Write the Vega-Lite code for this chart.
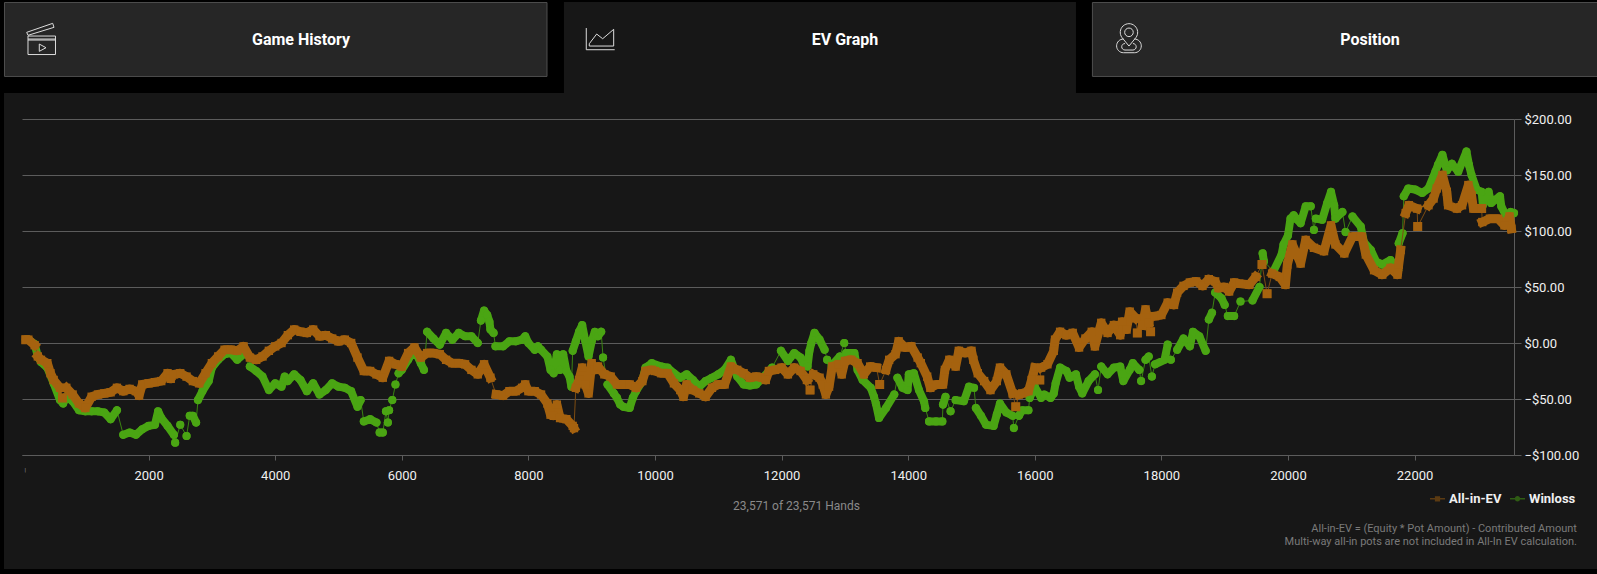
{
"$schema":"https://vega.github.io/schema/vega-lite/v6.json",
"width":1492,"height":336,
"autosize":{"type":"none"},
"padding":{"left":22,"top":119,"right":83,"bottom":119},
"background":"#171717",
"config":{"view":{"stroke":null},"text":{"font":"Roboto"}},
"datasets":{
"ev":[{"hand":60,"usd":3},{"hand":100,"usd":3},{"hand":200,"usd":-2},{"hand":225,"usd":null},{"hand":250,"usd":-12},{"hand":300,"usd":-15},{"hand":400,"usd":-18},{"hand":450,"usd":-27},{"hand":500,"usd":-33},{"hand":600,"usd":-40},{"hand":620,"usd":null},{"hand":640,"usd":-49},{"hand":670,"usd":null},{"hand":700,"usd":-40},{"hand":800,"usd":-46},{"hand":900,"usd":-54},{"hand":1000,"usd":-58},{"hand":1100,"usd":-48},{"hand":1200,"usd":-46},{"hand":1300,"usd":-45},{"hand":1400,"usd":-44},{"hand":1500,"usd":-40},{"hand":1600,"usd":-43},{"hand":1700,"usd":-41},{"hand":1800,"usd":-43},{"hand":1850,"usd":-47},{"hand":1900,"usd":-37},{"hand":2000,"usd":-36},{"hand":2100,"usd":-35},{"hand":2200,"usd":-34},{"hand":2300,"usd":-27},{"hand":2350,"usd":-32},{"hand":2400,"usd":-28},{"hand":2500,"usd":-27},{"hand":2600,"usd":-30},{"hand":2700,"usd":-34},{"hand":2800,"usd":-36},{"hand":2900,"usd":-27},{"hand":3000,"usd":-18},{"hand":3100,"usd":-12},{"hand":3200,"usd":-6},{"hand":3300,"usd":-6},{"hand":3400,"usd":-7},{"hand":3500,"usd":-3},{"hand":3600,"usd":-13},{"hand":3700,"usd":-15},{"hand":3800,"usd":-12},{"hand":3900,"usd":-7},{"hand":4000,"usd":-3},{"hand":4100,"usd":0},{"hand":4200,"usd":7},{"hand":4300,"usd":12},{"hand":4400,"usd":10},{"hand":4500,"usd":9},{"hand":4600,"usd":12},{"hand":4700,"usd":6},{"hand":4800,"usd":7},{"hand":4900,"usd":4},{"hand":5000,"usd":1.5},{"hand":5100,"usd":3},{"hand":5200,"usd":0},{"hand":5300,"usd":-13},{"hand":5400,"usd":-25},{"hand":5500,"usd":-25},{"hand":5600,"usd":-28},{"hand":5700,"usd":-31},{"hand":5800,"usd":-16},{"hand":5900,"usd":-19},{"hand":6000,"usd":-21},{"hand":6100,"usd":-9},{"hand":6200,"usd":-4},{"hand":6300,"usd":-13},{"hand":6400,"usd":-9},{"hand":6500,"usd":-9},{"hand":6600,"usd":-10},{"hand":6700,"usd":-15},{"hand":6800,"usd":-18},{"hand":6900,"usd":-18},{"hand":7000,"usd":-19},{"hand":7100,"usd":-24},{"hand":7200,"usd":-28},{"hand":7300,"usd":-19},{"hand":7400,"usd":-31},{"hand":7445,"usd":null},{"hand":7490,"usd":-46},{"hand":7600,"usd":-47},{"hand":7700,"usd":-43},{"hand":7800,"usd":-43},{"hand":7900,"usd":-40},{"hand":7950,"usd":-37},{"hand":8000,"usd":-43},{"hand":8100,"usd":-43},{"hand":8200,"usd":-46},{"hand":8300,"usd":-54},{"hand":8350,"usd":-64},{"hand":8400,"usd":-65},{"hand":8450,"usd":-55},{"hand":8500,"usd":-67},{"hand":8600,"usd":-68},{"hand":8700,"usd":-74},{"hand":8720,"usd":-76},{"hand":8735,"usd":null},{"hand":8750,"usd":-40},{"hand":8800,"usd":-33},{"hand":8850,"usd":-22},{"hand":8900,"usd":-37},{"hand":8950,"usd":-45},{"hand":9000,"usd":-18},{"hand":9050,"usd":-24},{"hand":9100,"usd":-21},{"hand":9200,"usd":-28},{"hand":9300,"usd":-30},{"hand":9400,"usd":-37},{"hand":9500,"usd":-37},{"hand":9600,"usd":-37},{"hand":9700,"usd":-40},{"hand":9800,"usd":-34},{"hand":9850,"usd":-25},{"hand":9950,"usd":-24},{"hand":10000,"usd":-25},{"hand":10100,"usd":-27},{"hand":10200,"usd":-27},{"hand":10300,"usd":-36},{"hand":10400,"usd":-42},{"hand":10450,"usd":-48},{"hand":10500,"usd":-37},{"hand":10600,"usd":-42},{"hand":10700,"usd":-45},{"hand":10800,"usd":-48},{"hand":10900,"usd":-40},{"hand":11000,"usd":-37},{"hand":11100,"usd":-37},{"hand":11200,"usd":-21},{"hand":11300,"usd":-24},{"hand":11400,"usd":-27},{"hand":11500,"usd":-31},{"hand":11600,"usd":-30},{"hand":11700,"usd":-31},{"hand":11750,"usd":-33},{"hand":11800,"usd":-25},{"hand":11900,"usd":-24},{"hand":12000,"usd":-22},{"hand":12100,"usd":-28},{"hand":12200,"usd":-22},{"hand":12300,"usd":-25},{"hand":12400,"usd":-33},{"hand":12425,"usd":null},{"hand":12450,"usd":-42},{"hand":12475,"usd":null},{"hand":12500,"usd":-28},{"hand":12600,"usd":-31},{"hand":12650,"usd":-37},{"hand":12700,"usd":-46},{"hand":12750,"usd":-39},{"hand":12800,"usd":-21},{"hand":12900,"usd":-19},{"hand":12950,"usd":-28},{"hand":13000,"usd":-16},{"hand":13100,"usd":-15},{"hand":13200,"usd":-18},{"hand":13300,"usd":-28},{"hand":13400,"usd":-21},{"hand":13500,"usd":-22},{"hand":13525,"usd":null},{"hand":13550,"usd":-37},{"hand":13600,"usd":null},{"hand":13650,"usd":-24},{"hand":13700,"usd":-15},{"hand":13800,"usd":-10},{"hand":13850,"usd":1.5},{"hand":13950,"usd":-4},{"hand":14050,"usd":-3},{"hand":14150,"usd":-13},{"hand":14200,"usd":-18},{"hand":14300,"usd":-30},{"hand":14350,"usd":-40},{"hand":14450,"usd":-37},{"hand":14550,"usd":-37},{"hand":14580,"usd":-24},{"hand":14650,"usd":-15},{"hand":14750,"usd":-21},{"hand":14800,"usd":-7},{"hand":14900,"usd":-9},{"hand":15000,"usd":-7},{"hand":15030,"usd":-15},{"hand":15100,"usd":-27},{"hand":15200,"usd":-34},{"hand":15300,"usd":-42},{"hand":15400,"usd":-34},{"hand":15450,"usd":-22},{"hand":15550,"usd":-28},{"hand":15650,"usd":-45},{"hand":15675,"usd":null},{"hand":15700,"usd":-57},{"hand":15725,"usd":null},{"hand":15750,"usd":-46},{"hand":15800,"usd":-45},{"hand":15900,"usd":-43},{"hand":15950,"usd":-33},{"hand":16000,"usd":-22},{"hand":16050,"usd":null},{"hand":16080,"usd":-33},{"hand":16090,"usd":null},{"hand":16100,"usd":-22},{"hand":16200,"usd":-19},{"hand":16300,"usd":-7},{"hand":16320,"usd":3},{"hand":16400,"usd":10},{"hand":16500,"usd":7},{"hand":16600,"usd":9},{"hand":16700,"usd":-4},{"hand":16800,"usd":4},{"hand":16900,"usd":10},{"hand":16950,"usd":-3},{"hand":17050,"usd":18},{"hand":17150,"usd":9},{"hand":17250,"usd":16},{"hand":17350,"usd":7},{"hand":17380,"usd":19},{"hand":17450,"usd":12},{"hand":17500,"usd":28},{"hand":17600,"usd":22},{"hand":17610,"usd":null},{"hand":17620,"usd":9},{"hand":17660,"usd":null},{"hand":17700,"usd":16},{"hand":17750,"usd":30},{"hand":17800,"usd":18},{"hand":17815,"usd":null},{"hand":17830,"usd":10},{"hand":17865,"usd":null},{"hand":17900,"usd":24},{"hand":18000,"usd":25},{"hand":18100,"usd":36},{"hand":18200,"usd":34},{"hand":18250,"usd":45},{"hand":18350,"usd":51},{"hand":18450,"usd":54},{"hand":18550,"usd":55},{"hand":18650,"usd":51},{"hand":18750,"usd":57},{"hand":18850,"usd":55},{"hand":18900,"usd":49},{"hand":18990,"usd":50},{"hand":19070,"usd":46},{"hand":19150,"usd":54},{"hand":19230,"usd":53},{"hand":19390,"usd":52},{"hand":19490,"usd":59},{"hand":19540,"usd":null},{"hand":19590,"usd":70},{"hand":19630,"usd":null},{"hand":19670,"usd":44},{"hand":19710,"usd":null},{"hand":19750,"usd":62},{"hand":19870,"usd":59},{"hand":19960,"usd":52},{"hand":19990,"usd":70},{"hand":20070,"usd":88},{"hand":20200,"usd":71},{"hand":20280,"usd":92},{"hand":20410,"usd":85},{"hand":20570,"usd":82},{"hand":20680,"usd":105},{"hand":20750,"usd":88},{"hand":20890,"usd":80},{"hand":21020,"usd":95},{"hand":21170,"usd":95},{"hand":21230,"usd":79},{"hand":21360,"usd":65},{"hand":21490,"usd":61},{"hand":21620,"usd":67},{"hand":21730,"usd":61},{"hand":21750,"usd":70},{"hand":21780,"usd":83},{"hand":21820,"usd":null},{"hand":21860,"usd":116},{"hand":21910,"usd":123},{"hand":22040,"usd":120},{"hand":22045,"usd":null},{"hand":22050,"usd":104},{"hand":22120,"usd":null},{"hand":22220,"usd":123},{"hand":22300,"usd":129},{"hand":22350,"usd":138},{"hand":22440,"usd":150},{"hand":22510,"usd":135},{"hand":22530,"usd":123},{"hand":22670,"usd":120},{"hand":22750,"usd":123},{"hand":22850,"usd":141},{"hand":22900,"usd":132},{"hand":22930,"usd":120},{"hand":23060,"usd":120},{"hand":23065,"usd":null},{"hand":23070,"usd":108},{"hand":23190,"usd":111},{"hand":23320,"usd":111},{"hand":23420,"usd":105},{"hand":23500,"usd":113},{"hand":23530,"usd":102}],
"wl":[{"hand":60,"usd":3},{"hand":100,"usd":3},{"hand":200,"usd":-1},{"hand":250,"usd":-12},{"hand":300,"usd":-17},{"hand":400,"usd":-22},{"hand":500,"usd":-36},{"hand":600,"usd":-51},{"hand":650,"usd":-54},{"hand":700,"usd":-48},{"hand":800,"usd":-52},{"hand":900,"usd":-60},{"hand":1000,"usd":-61},{"hand":1100,"usd":-61},{"hand":1200,"usd":-61},{"hand":1300,"usd":-62},{"hand":1400,"usd":-68},{"hand":1500,"usd":-60},{"hand":1550,"usd":null},{"hand":1600,"usd":-82},{"hand":1700,"usd":-80},{"hand":1800,"usd":-82},{"hand":1900,"usd":-77},{"hand":2000,"usd":-74},{"hand":2100,"usd":-73},{"hand":2150,"usd":-61},{"hand":2200,"usd":-67},{"hand":2300,"usd":-74},{"hand":2400,"usd":-82},{"hand":2410,"usd":null},{"hand":2420,"usd":-89},{"hand":2460,"usd":null},{"hand":2500,"usd":-73},{"hand":2550,"usd":null},{"hand":2600,"usd":-83},{"hand":2625,"usd":null},{"hand":2650,"usd":-65},{"hand":2700,"usd":-65},{"hand":2750,"usd":-71},{"hand":2765,"usd":null},{"hand":2780,"usd":-51},{"hand":2850,"usd":-43},{"hand":2950,"usd":-34},{"hand":3000,"usd":-22},{"hand":3100,"usd":-15},{"hand":3200,"usd":-10},{"hand":3300,"usd":-9},{"hand":3400,"usd":-15},{"hand":3500,"usd":-10},{"hand":3550,"usd":null},{"hand":3600,"usd":-21},{"hand":3700,"usd":-25},{"hand":3800,"usd":-30},{"hand":3900,"usd":-42},{"hand":4000,"usd":-36},{"hand":4100,"usd":-39},{"hand":4150,"usd":-30},{"hand":4200,"usd":-34},{"hand":4300,"usd":-28},{"hand":4400,"usd":-33},{"hand":4500,"usd":-43},{"hand":4600,"usd":-36},{"hand":4700,"usd":-46},{"hand":4800,"usd":-42},{"hand":4900,"usd":-36},{"hand":5000,"usd":-39},{"hand":5100,"usd":-40},{"hand":5200,"usd":-43},{"hand":5300,"usd":-57},{"hand":5350,"usd":-51},{"hand":5375,"usd":null},{"hand":5400,"usd":-70},{"hand":5500,"usd":-68},{"hand":5600,"usd":-71},{"hand":5625,"usd":null},{"hand":5650,"usd":-80},{"hand":5700,"usd":-80},{"hand":5725,"usd":null},{"hand":5750,"usd":-61},{"hand":5765,"usd":null},{"hand":5780,"usd":-71},{"hand":5790,"usd":null},{"hand":5800,"usd":-60},{"hand":5825,"usd":null},{"hand":5850,"usd":-51},{"hand":5875,"usd":null},{"hand":5900,"usd":-37},{"hand":5925,"usd":null},{"hand":5950,"usd":-27},{"hand":6000,"usd":-24},{"hand":6100,"usd":-15},{"hand":6200,"usd":-6},{"hand":6300,"usd":-18},{"hand":6350,"usd":-24},{"hand":6375,"usd":null},{"hand":6400,"usd":10},{"hand":6500,"usd":4},{"hand":6600,"usd":-1.5},{"hand":6700,"usd":9},{"hand":6800,"usd":3},{"hand":6900,"usd":9},{"hand":7000,"usd":6},{"hand":7100,"usd":6},{"hand":7200,"usd":0},{"hand":7225,"usd":null},{"hand":7250,"usd":20},{"hand":7300,"usd":29},{"hand":7350,"usd":25},{"hand":7385,"usd":19},{"hand":7400,"usd":12},{"hand":7450,"usd":9},{"hand":7465,"usd":null},{"hand":7480,"usd":-3},{"hand":7600,"usd":-3},{"hand":7700,"usd":1.5},{"hand":7800,"usd":1.5},{"hand":7900,"usd":3},{"hand":7950,"usd":6},{"hand":8000,"usd":0},{"hand":8100,"usd":-6},{"hand":8150,"usd":-3},{"hand":8200,"usd":-6},{"hand":8300,"usd":-12},{"hand":8350,"usd":-24},{"hand":8400,"usd":-27},{"hand":8450,"usd":-10},{"hand":8500,"usd":-24},{"hand":8550,"usd":-10},{"hand":8600,"usd":-25},{"hand":8650,"usd":-30},{"hand":8680,"usd":-39},{"hand":8690,"usd":null},{"hand":8700,"usd":-7},{"hand":8750,"usd":1.5},{"hand":8800,"usd":10},{"hand":8850,"usd":16},{"hand":8900,"usd":1.5},{"hand":8950,"usd":-12},{"hand":9000,"usd":1.5},{"hand":9050,"usd":10},{"hand":9100,"usd":6},{"hand":9150,"usd":10},{"hand":9165,"usd":null},{"hand":9180,"usd":-13},{"hand":9215,"usd":null},{"hand":9250,"usd":-37},{"hand":9350,"usd":-45},{"hand":9400,"usd":-49},{"hand":9450,"usd":-55},{"hand":9500,"usd":-57},{"hand":9600,"usd":-58},{"hand":9650,"usd":-49},{"hand":9700,"usd":-43},{"hand":9800,"usd":-34},{"hand":9850,"usd":-22},{"hand":9950,"usd":-18},{"hand":10100,"usd":-21},{"hand":10200,"usd":-22},{"hand":10300,"usd":-27},{"hand":10400,"usd":-31},{"hand":10500,"usd":-28},{"hand":10600,"usd":-33},{"hand":10700,"usd":-39},{"hand":10800,"usd":-34},{"hand":10900,"usd":-31},{"hand":11000,"usd":-28},{"hand":11100,"usd":-24},{"hand":11200,"usd":-15},{"hand":11300,"usd":-30},{"hand":11400,"usd":-37},{"hand":11500,"usd":-38},{"hand":11600,"usd":-37},{"hand":11720,"usd":-30},{"hand":11850,"usd":-22},{"hand":11920,"usd":null},{"hand":11990,"usd":-7},{"hand":12100,"usd":-16},{"hand":12200,"usd":-9},{"hand":12300,"usd":-13},{"hand":12350,"usd":-19},{"hand":12410,"usd":-21},{"hand":12440,"usd":-7},{"hand":12470,"usd":0},{"hand":12520,"usd":9},{"hand":12600,"usd":3},{"hand":12680,"usd":-6},{"hand":12700,"usd":null},{"hand":12720,"usd":-15},{"hand":12740,"usd":null},{"hand":12760,"usd":-34},{"hand":12785,"usd":null},{"hand":12810,"usd":-19},{"hand":12920,"usd":-12},{"hand":12960,"usd":null},{"hand":12990,"usd":0},{"hand":13005,"usd":null},{"hand":13020,"usd":-9},{"hand":13150,"usd":-9},{"hand":13200,"usd":-24},{"hand":13280,"usd":-33},{"hand":13410,"usd":-40},{"hand":13460,"usd":-48},{"hand":13490,"usd":-54},{"hand":13540,"usd":-67},{"hand":13650,"usd":-58},{"hand":13780,"usd":-46},{"hand":13805,"usd":null},{"hand":13830,"usd":-31},{"hand":13910,"usd":-40},{"hand":13990,"usd":-42},{"hand":14010,"usd":-28},{"hand":14090,"usd":-27},{"hand":14170,"usd":-42},{"hand":14250,"usd":-52},{"hand":14270,"usd":-58},{"hand":14300,"usd":null},{"hand":14330,"usd":-70},{"hand":14440,"usd":-70},{"hand":14540,"usd":-70},{"hand":14545,"usd":null},{"hand":14550,"usd":-55},{"hand":14590,"usd":-48},{"hand":14630,"usd":null},{"hand":14670,"usd":-61},{"hand":14710,"usd":null},{"hand":14750,"usd":-51},{"hand":14880,"usd":-52},{"hand":14960,"usd":-39},{"hand":15040,"usd":-40},{"hand":15055,"usd":null},{"hand":15070,"usd":-58},{"hand":15150,"usd":-65},{"hand":15230,"usd":-73},{"hand":15350,"usd":-74},{"hand":15400,"usd":-64},{"hand":15450,"usd":-54},{"hand":15550,"usd":-62},{"hand":15650,"usd":-65},{"hand":15660,"usd":null},{"hand":15670,"usd":-76},{"hand":15710,"usd":null},{"hand":15750,"usd":-65},{"hand":15800,"usd":-60},{"hand":15900,"usd":-60},{"hand":15910,"usd":null},{"hand":15920,"usd":-49},{"hand":16000,"usd":-39},{"hand":16100,"usd":-49},{"hand":16150,"usd":-46},{"hand":16250,"usd":-49},{"hand":16300,"usd":-45},{"hand":16330,"usd":-36},{"hand":16400,"usd":-22},{"hand":16500,"usd":-25},{"hand":16550,"usd":-31},{"hand":16650,"usd":-28},{"hand":16700,"usd":-39},{"hand":16750,"usd":-45},{"hand":16850,"usd":-34},{"hand":16950,"usd":-28},{"hand":16975,"usd":null},{"hand":17000,"usd":-42},{"hand":17025,"usd":null},{"hand":17050,"usd":-21},{"hand":17150,"usd":-28},{"hand":17250,"usd":-22},{"hand":17350,"usd":-21},{"hand":17400,"usd":-34},{"hand":17500,"usd":-24},{"hand":17550,"usd":-18},{"hand":17650,"usd":-24},{"hand":17665,"usd":null},{"hand":17680,"usd":-34},{"hand":17715,"usd":null},{"hand":17750,"usd":-15},{"hand":17800,"usd":-12},{"hand":17825,"usd":null},{"hand":17850,"usd":-30},{"hand":17875,"usd":null},{"hand":17900,"usd":-19},{"hand":18050,"usd":-15},{"hand":18100,"usd":-1.5},{"hand":18125,"usd":null},{"hand":18150,"usd":-15},{"hand":18200,"usd":null},{"hand":18250,"usd":-6},{"hand":18350,"usd":4},{"hand":18450,"usd":-3},{"hand":18500,"usd":10},{"hand":18600,"usd":6},{"hand":18700,"usd":-7},{"hand":18725,"usd":null},{"hand":18750,"usd":21},{"hand":18800,"usd":27},{"hand":18825,"usd":null},{"hand":18850,"usd":45},{"hand":18950,"usd":40},{"hand":19000,"usd":34},{"hand":19025,"usd":null},{"hand":19050,"usd":24},{"hand":19150,"usd":24},{"hand":19200,"usd":null},{"hand":19250,"usd":37},{"hand":19350,"usd":null},{"hand":19440,"usd":38},{"hand":19550,"usd":50},{"hand":19575,"usd":null},{"hand":19600,"usd":80},{"hand":19620,"usd":73},{"hand":19700,"usd":null},{"hand":19770,"usd":64},{"hand":19900,"usd":79},{"hand":19930,"usd":88},{"hand":20000,"usd":96},{"hand":20040,"usd":111},{"hand":20090,"usd":114},{"hand":20150,"usd":110},{"hand":20200,"usd":107},{"hand":20280,"usd":122},{"hand":20360,"usd":122},{"hand":20380,"usd":null},{"hand":20410,"usd":101},{"hand":20425,"usd":null},{"hand":20440,"usd":111},{"hand":20540,"usd":110},{"hand":20620,"usd":125},{"hand":20680,"usd":135},{"hand":20730,"usd":123},{"hand":20750,"usd":111},{"hand":20860,"usd":117},{"hand":20885,"usd":null},{"hand":20910,"usd":99},{"hand":20950,"usd":null},{"hand":21020,"usd":113},{"hand":21150,"usd":104},{"hand":21200,"usd":90},{"hand":21310,"usd":83},{"hand":21390,"usd":73},{"hand":21490,"usd":70},{"hand":21620,"usd":74},{"hand":21740,"usd":65},{"hand":21745,"usd":null},{"hand":21750,"usd":89},{"hand":21810,"usd":98},{"hand":21820,"usd":null},{"hand":21830,"usd":131},{"hand":21900,"usd":138},{"hand":22010,"usd":137},{"hand":22120,"usd":134},{"hand":22220,"usd":138},{"hand":22330,"usd":153},{"hand":22370,"usd":159},{"hand":22440,"usd":168},{"hand":22510,"usd":154},{"hand":22590,"usd":160},{"hand":22690,"usd":153},{"hand":22820,"usd":171},{"hand":22860,"usd":159},{"hand":22900,"usd":150},{"hand":22980,"usd":137},{"hand":23060,"usd":135},{"hand":23080,"usd":123},{"hand":23170,"usd":135},{"hand":23210,"usd":125},{"hand":23350,"usd":131},{"hand":23370,"usd":122},{"hand":23480,"usd":110},{"hand":23520,"usd":117},{"hand":23571,"usd":116}]
},
"encoding":{
"x":{"field":"hand","type":"quantitative","scale":{"domain":[0,23571],"nice":false,"zero":false},"axis":{"title":null,"grid":false,"values":[2000,4000,6000,8000,10000,12000,14000,16000,18000,20000,22000],"format":"d","domainColor":"#5c5c5c","tickColor":"#5c5c5c","tickSize":5,"labelColor":"#f0f0f0","labelFont":"Roboto","labelFontSize":13,"labelPadding":9}},
"y":{"field":"usd","type":"quantitative","scale":{"domain":[-100,200],"nice":false,"zero":false},"axis":{"title":null,"orient":"right","values":[-100,-50,0,50,100,150,200],"format":"$,.2f","grid":true,"gridColor":"#5c5c5c","domainColor":"#5c5c5c","tickColor":"#5c5c5c","tickSize":7,"labelColor":"#f0f0f0","labelFont":"Roboto","labelFontSize":13,"labelPadding":3}}
},
"layer":[
{"data":{"values":[{"hand":-400,"hand2":25300,"usd":310,"usd2":223.2},{"hand":-400,"hand2":-284.4,"usd":310,"usd2":-210},{"hand":-400,"hand2":25300,"usd":-201.8,"usd2":-210}]},"mark":{"type":"rect","fill":"#000000","strokeWidth":0},"encoding":{"x2":{"field":"hand2"},"y2":{"field":"usd2"}}},
{"data":{"values":[{"hand":8562,"hand2":16651,"usd":304.5,"usd2":223.2}]},"mark":{"type":"rect","fill":"#171717","strokeWidth":0},"encoding":{"x2":{"field":"hand2"},"y2":{"field":"usd2"}}},
{"data":{"values":[{"hand":-276.5,"hand2":8294,"usd":304,"usd2":238},{"hand":16911,"hand2":24930,"usd":304,"usd2":238}]},"mark":{"type":"rect","fill":"#262626","stroke":"#4e4e4e","strokeWidth":1},"encoding":{"x2":{"field":"hand2"},"y2":{"field":"usd2"}}},
{"data":{"values":[{"tab":"Game History","hand":4408,"usd":270.5},{"tab":"EV Graph","hand":13002,"usd":270.5},{"tab":"Position","hand":21296,"usd":270.5}]},"mark":{"type":"text","font":"Roboto","fontWeight":"bold","fontSize":16,"color":"#ffffff","align":"center","baseline":"middle"},"encoding":{"text":{"field":"tab"}}},
{"data":{"values":[{"hand":300,"usd":271.4}]},"mark":{"type":"point","filled":false,"size":4,"stroke":"#dcdcdc","strokeWidth":1,"opacity":1,"shape":"M-13 -3H14.5V15.5H-13ZM-13 0H14.5M-13 1H14.5M-1.7 5L5 8.7L-1.7 12.3ZM-14.3 -6.7L11.7 -15.7L13 -11.7L-13 -3.7Z"}},
{"data":{"values":[{"hand":9131,"usd":271.4}]},"mark":{"type":"point","filled":false,"size":4,"stroke":"#dcdcdc","strokeWidth":1,"opacity":1,"shape":"M-13.7 -11V10.7H14.7M-10.7 7V4.7L-3.3 -5L2.7 -0.3L13.7 -9.7V7Z"}},
{"data":{"values":[{"hand":17488,"usd":271.4}]},"mark":{"type":"point","filled":false,"size":4,"stroke":"#dcdcdc","strokeWidth":1,"opacity":1,"shape":"M-7 -1.5A8.7 8.7 0 1 1 7 -1.5L0 7ZM-4.3 -6.7A4.3 4.3 0 1 1 4.3 -6.7A4.3 4.3 0 1 1 -4.3 -6.7ZM-5.5 0A6.85 6.85 0 0 0 -5.5 13.7H5.5A6.85 6.85 0 0 0 5.5 0M-4 4.5A3.25 3.25 0 0 0 -4 11H4A3.25 3.25 0 0 0 4 4.5"}},
{"data":{"name":"wl"},"transform":[{"filter":"isValid(datum.usd)"}],"mark":{"type":"line","color":"#3a8412","strokeWidth":1}},
{"data":{"name":"wl"},"mark":{"type":"line","color":"#4aa513","strokeWidth":8,"strokeCap":"round","strokeJoin":"round"}},
{"data":{"name":"wl"},"transform":[{"filter":"isValid(datum.usd)"}],"mark":{"type":"point","shape":"circle","filled":true,"size":66,"color":"#4aa513","opacity":1}},
{"data":{"name":"ev"},"transform":[{"filter":"isValid(datum.usd)"}],"mark":{"type":"line","color":"#7d4c12","strokeWidth":1}},
{"data":{"name":"ev"},"mark":{"type":"line","color":"#a5620f","strokeWidth":9,"strokeCap":"square","strokeJoin":"round"}},
{"data":{"name":"ev"},"transform":[{"filter":"isValid(datum.usd)"}],"mark":{"type":"point","shape":"square","filled":true,"size":70,"color":"#a5620f","opacity":1}},
{"data":{"values":[{"series":"All-in-EV","hand":0,"usd":0},{"series":"Winloss","hand":0,"usd":0}]},"mark":{"type":"point","filled":true,"size":0},"encoding":{
"color":{"field":"series","type":"nominal","scale":{"domain":["All-in-EV","Winloss"],"range":["#a5620f","#4aa513"]},"legend":{"title":null,"orient":"none","direction":"horizontal","legendX":1407,"legendY":371,"symbolSize":225,"symbolOpacity":1,"labelFont":"Roboto","labelFontWeight":"bold","labelFontSize":13,"labelColor":"#f0f0f0","columnPadding":5,"labelOffset":3,"padding":0}},
"shape":{"field":"series","type":"nominal","scale":{"domain":["All-in-EV","Winloss"],"range":["M-1 -0.1H1V0.1H-1ZM-0.35 -0.35H0.35V0.35H-0.35Z","M-1 -0.1H1V0.1H-1ZM-0.36 0A0.36 0.36 0 1 1 0.36 0A0.36 0.36 0 1 1 -0.36 0Z"]}}}},
{"data":{"values":[{"note":"23,571 of 23,571 Hands","hand":12235,"usd":-145.5}]},"mark":{"type":"text","font":"Roboto","fontSize":12,"color":"#8a8a8a","align":"center","baseline":"middle"},"encoding":{"text":{"field":"note"}}},
{"data":{"values":[{"note":"All-in-EV = (Equity * Pot Amount) - Contributed Amount","hand":24565,"usd":-166.3},{"note":"Multi-way all-in pots are not included in All-In EV calculation.","hand":24565,"usd":-177.7}]},"mark":{"type":"text","font":"Roboto","fontSize":11,"color":"#7a7a7a","align":"right","baseline":"middle"},"encoding":{"text":{"field":"note"}}},
{"data":{"values":[{"note":"|","hand":52,"usd":-113.8}]},"mark":{"type":"text","font":"Roboto","fontSize":6,"color":"#9a9a9a","align":"center","baseline":"middle"},"encoding":{"text":{"field":"note"}}}
]
}
